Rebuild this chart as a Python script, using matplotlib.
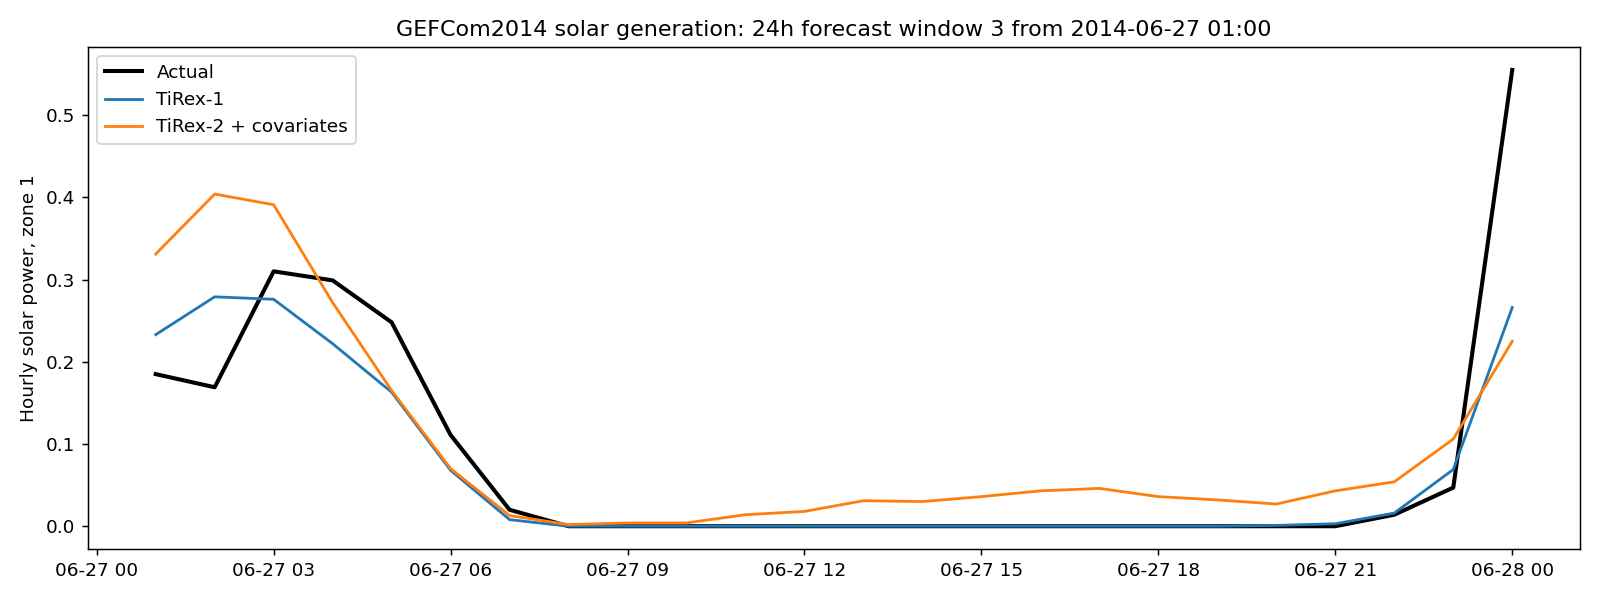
import numpy as np
import pandas as pd
import matplotlib
matplotlib.use("Agg")
import matplotlib.pyplot as plt
import matplotlib.dates as mdates

# hourly timestamps of the forecast window
times = pd.date_range("2014-06-27 01:00", periods=24, freq="h")

actual = [0.185, 0.169, 0.310, 0.299, 0.248, 0.111, 0.020, 0.0,
          0.0, 0.0, 0.0, 0.0, 0.0, 0.0, 0.0, 0.0,
          0.0, 0.0, 0.0, 0.0, 0.0, 0.014, 0.047, 0.555]
tirex1 = [0.233, 0.279, 0.276, 0.222, 0.163, 0.068, 0.008, 0.0,
          0.0, 0.0, 0.0, 0.0, 0.0, 0.0, 0.0, 0.0,
          0.0, 0.0, 0.0, 0.001, 0.003, 0.016, 0.069, 0.266]
tirex2_cov = [0.331, 0.404, 0.391, 0.272, 0.165, 0.070, 0.013, 0.002,
              0.004, 0.004, 0.014, 0.018, 0.031, 0.030, 0.036, 0.043,
              0.046, 0.036, 0.032, 0.027, 0.043, 0.054, 0.106, 0.225]

fig, ax = plt.subplots(figsize=(12, 4.5), dpi=133.34)
ax.plot(times, actual, color="black", lw=2.2, label="Actual")
ax.plot(times, tirex1, color="tab:blue", lw=1.5, label="TiRex-1")
ax.plot(times, tirex2_cov, color="tab:orange", lw=1.5, label="TiRex-2 + covariates")

ax.xaxis.set_major_locator(mdates.HourLocator(byhour=range(0, 24, 3)))
ax.xaxis.set_major_formatter(mdates.DateFormatter("%m-%d %H"))

ax.set_ylabel("Hourly solar power, zone 1")
ax.set_title("GEFCom2014 solar generation: 24h forecast window 3 from 2014-06-27 01:00")
ax.legend(loc="upper left")

fig.tight_layout()
fig.savefig("out.png")
